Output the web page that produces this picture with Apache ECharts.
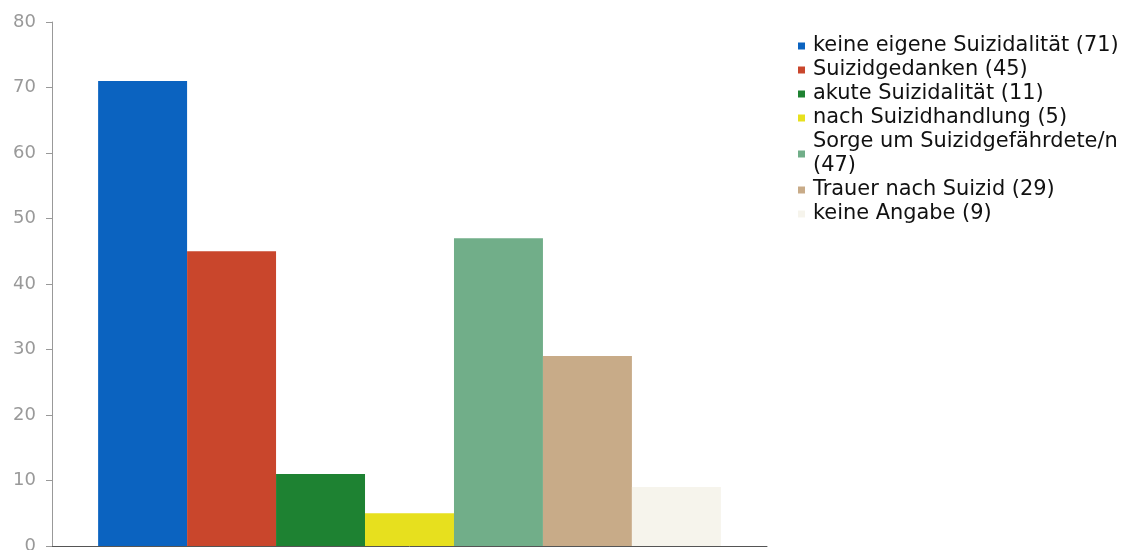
<!DOCTYPE html>
<html>
<head>
<meta charset="utf-8">
<script src="https://cdn.jsdelivr.net/npm/echarts@6/dist/echarts.min.js"></script>
<style>html,body{margin:0;padding:0;background:#fff}#c{width:1132px;height:550px}</style>
</head>
<body>
<div id="c"></div>
<script>
const categories = [
  'keine eigene Suizidalität',
  'Suizidgedanken',
  'akute Suizidalität',
  'nach Suizidhandlung',
  'Sorge um Suizidgefährdete/n',
  'Trauer nach Suizid',
  'keine Angabe'
];
const values = [71, 45, 11, 5, 47, 29, 9];
const colors = ['#0b63c0', '#c9462c', '#1e8232', '#e7e01e', '#71ae89', '#c8ab88', '#f6f4ec'];
const yTicks = [0, 10, 20, 30, 40, 50, 60, 70, 80];

const names = categories.map((c, i) => c + ' (' + values[i] + ')');
const series = names.map((n, i) => ({
  name: n,
  type: 'bar',
  data: [values[i]],
  barGap: '0%',
  barCategoryGap: '12.9%',
  itemStyle: { color: colors[i] }
}));

const chart = echarts.init(document.getElementById('c'), null, { renderer: 'canvas' });
chart.setOption({
  animation: false,
  color: colors,
  grid: { left: 52, right: 365, top: 22, bottom: 4, containLabel: false, outerBoundsMode: 'none' },
  legend: {
    orient: 'vertical',
    left: 793,
    top: 29,
    icon: 'rect',
    itemWidth: 7,
    itemHeight: 7,
    itemGap: 0,
    formatter: function (name) {
      return name.length > 31 ? name.replace(/ \(/, '\n(') : name;
    },
    textStyle: {
      fontFamily: 'DejaVu Sans',
      fontSize: 20.9,
      color: '#111',
      lineHeight: 24,
      padding: [0, 0, 0, 3]
    },
    data: names
  },
  xAxis: {
    type: 'category',
    data: [''],
    axisLine: { show: true, lineStyle: { color: '#555', width: 1 } },
    axisTick: { show: false },
    axisLabel: { show: false },
    splitLine: { show: false }
  },
  yAxis: {
    type: 'value',
    min: yTicks[0],
    max: yTicks[yTicks.length - 1],
    interval: 10,
    axisLine: { show: true, lineStyle: { color: '#999', width: 1 } },
    axisTick: { show: true, length: 6, lineStyle: { color: '#999' } },
    axisLabel: { fontFamily: 'DejaVu Sans', fontSize: 18, color: '#999', margin: 16 },
    splitLine: { show: false }
  },
  series: series
});
</script>
</body>
</html>
